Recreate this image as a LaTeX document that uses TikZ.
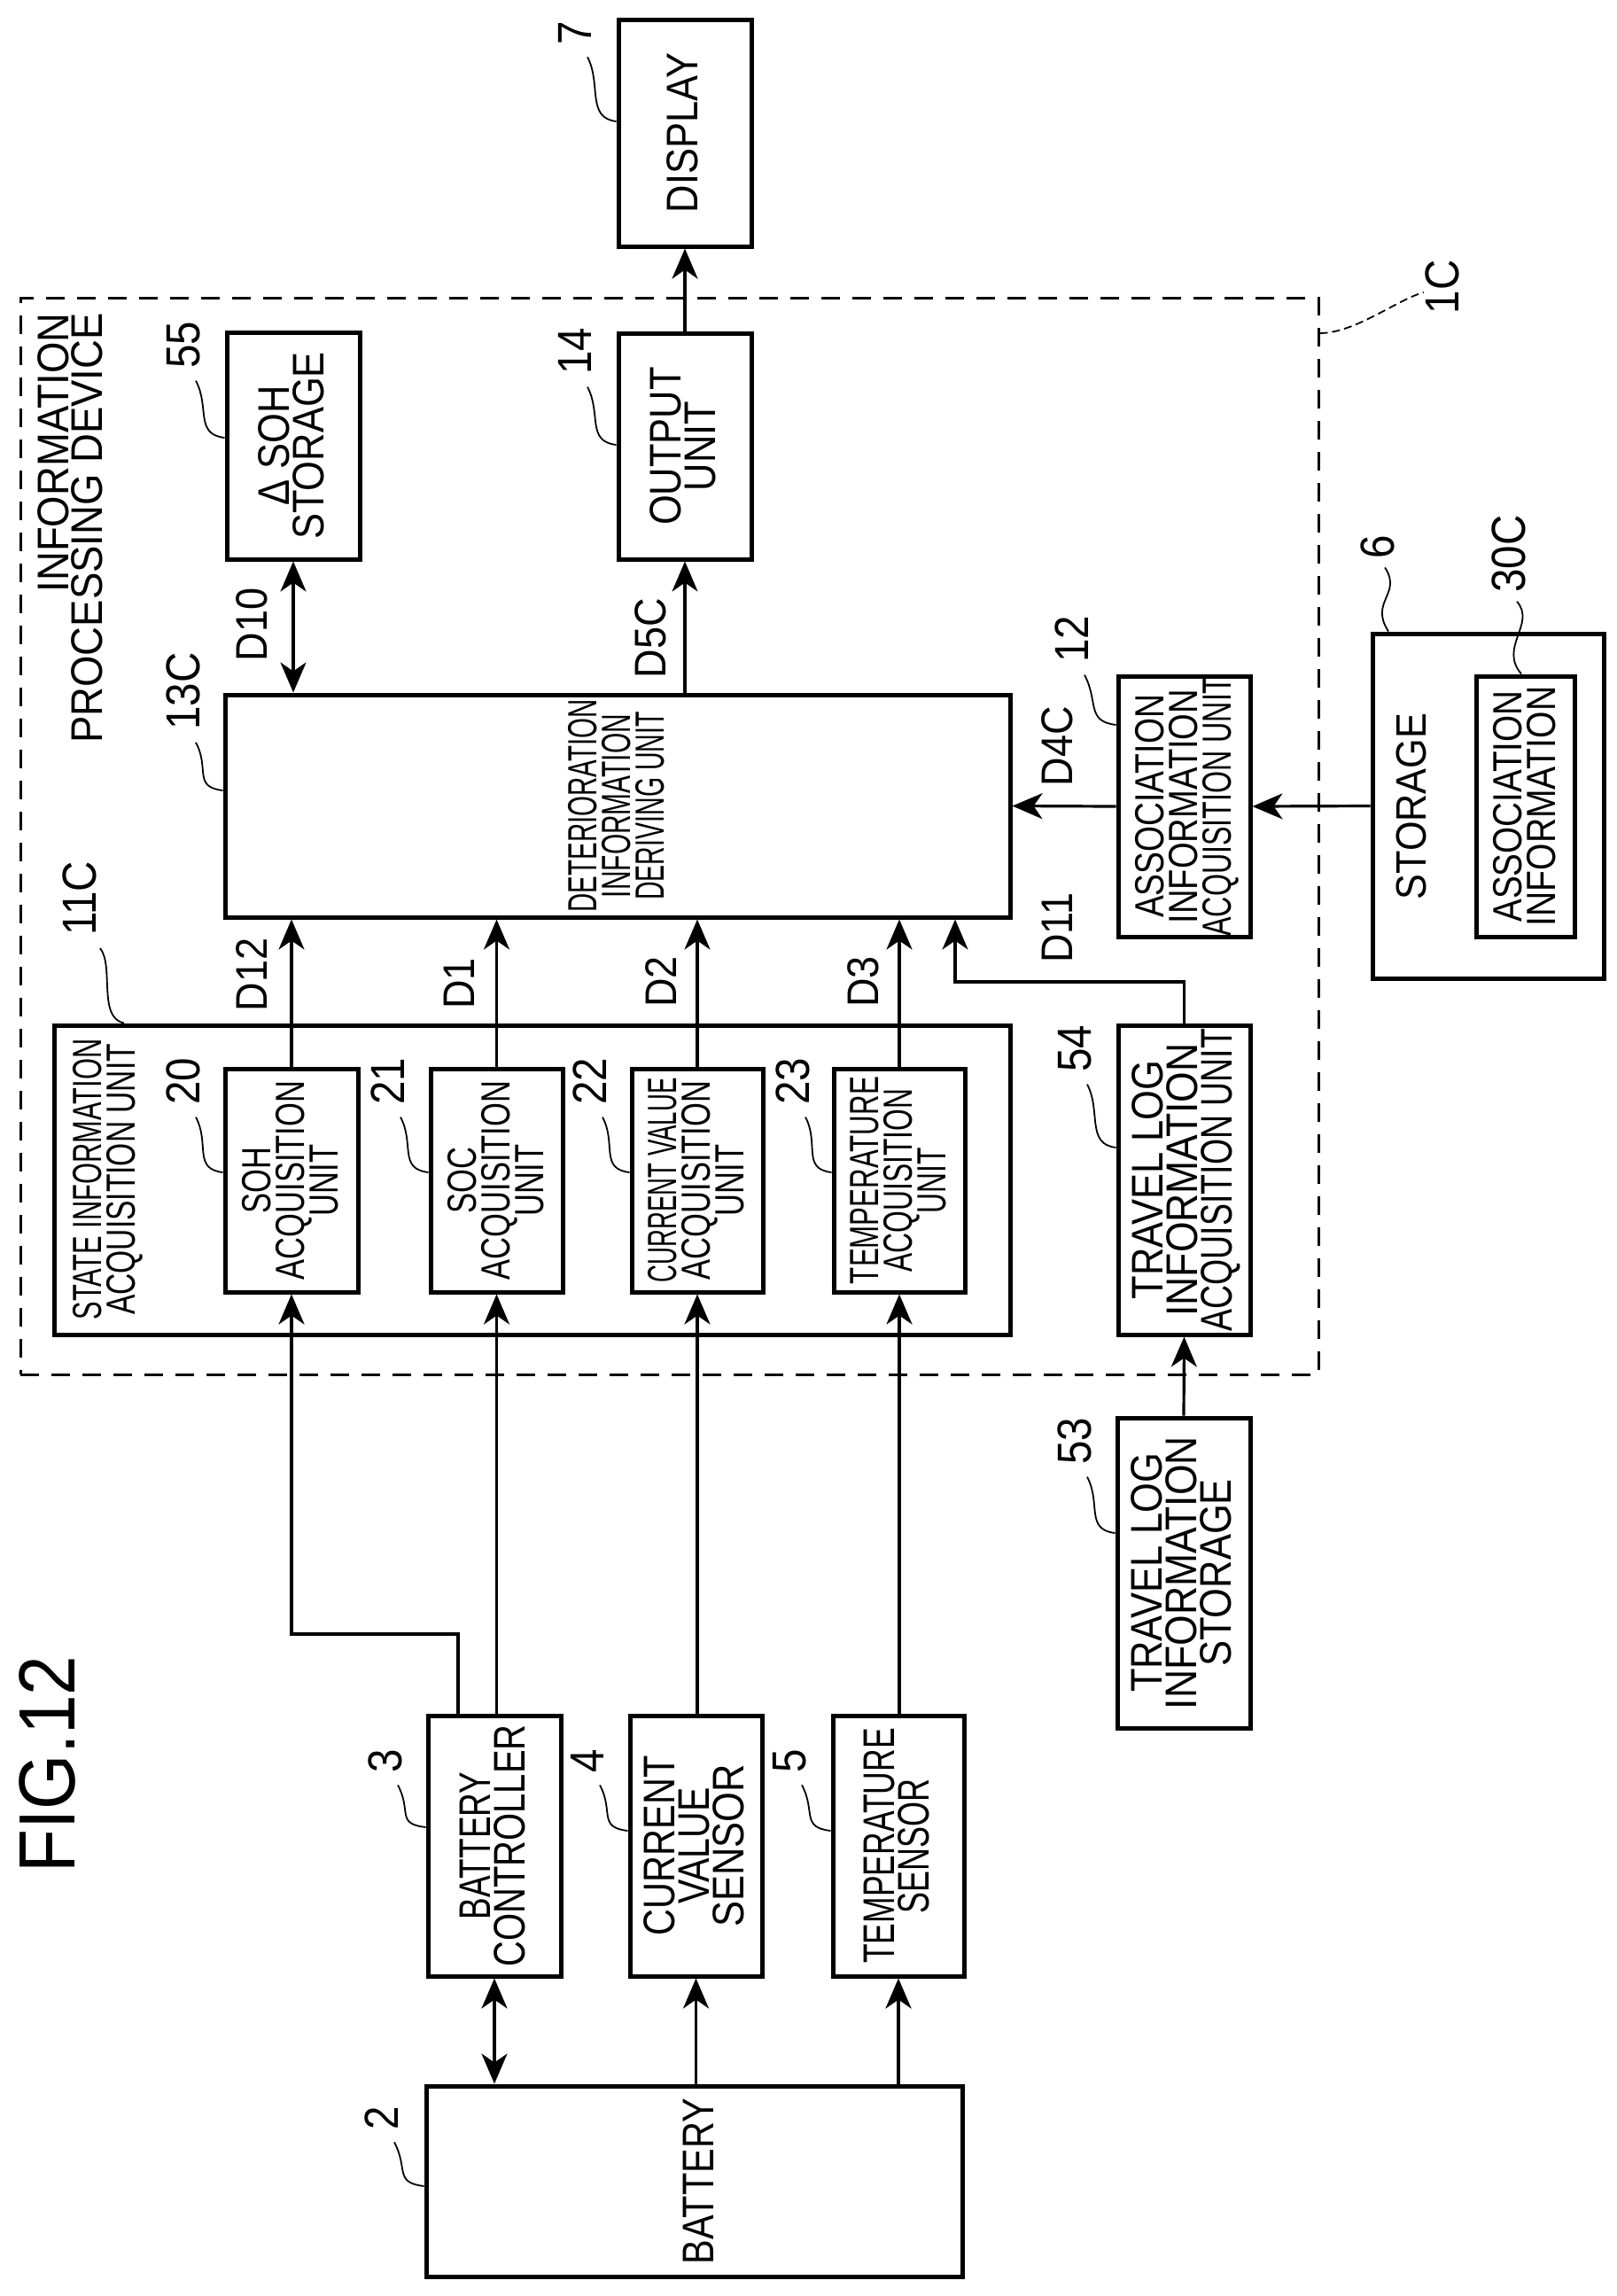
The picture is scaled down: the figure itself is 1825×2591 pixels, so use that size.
\documentclass[tikz,border=0pt]{standalone}
\usepackage{fontspec}
\usepackage{graphicx}
\setmainfont{Liberation Sans}
\usetikzlibrary{arrows.meta}
\usetikzlibrary{calc}
\newcommand{\vtext}[1]{\rotatebox{90}{\begin{tabular}{@{}c@{}}#1\end{tabular}}}
\newcommand{\vtextr}[1]{\rotatebox{90}{\begin{tabular}{@{}r@{}}#1\end{tabular}}}
\newcommand{\sq}[2]{{\addfontfeatures{FakeStretch=#1}\smash{\raisebox{-7pt}{#2}}}}
\newcommand{\leader}[2]{\draw[lead line] ($(#1.south)+(10,14)$) .. controls +(16,30) and +(-34,-4) .. (#2);}

\begin{document}
\begin{tikzpicture}[x=1pt,y=-1pt,>={Stealth[length=34pt,width=29pt,inset=10pt]},
    box node/.style={draw,line width=5pt,inner sep=0pt,font=\fontsize{50}{39}\selectfont},
    small box/.style={box node,font=\fontsize{46}{38}\selectfont},
    tag node/.style={inner sep=0pt,font=\fontsize{50}{38}\selectfont},
    num node/.style={inner sep=0pt,font=\fontsize{54}{38}\selectfont},
    flow/.style={->,line width=3.2pt},
    lead line/.style={line width=1.8pt}]
  \useasboundingbox (0,0) rectangle (1825,2591);

  % outer device frame
  \node[draw,dashed,line width=3pt,dash pattern=on 21pt off 14pt,inner sep=0pt,minimum width=1465pt,minimum height=1215pt] (ipd) at (755.5,943.5) {};
  \node[box node,minimum width=1079pt,minimum height=349pt] (sia) at (600.5,1331.5) {};

  \node[box node,minimum width=150pt,minimum height=256pt] (dpy) at (773,150) {\vtext{\sq{.87}{DISPLAY}}};
  \node[box node,minimum width=150pt,minimum height=255pt] (out) at (773,503.5) {\vtext{\sq{.87}{OUTPUT}\\\sq{.87}{UNIT}}};
  \node[box node,minimum width=150pt,minimum height=256pt] (dsoh) at (331,503) {\vtext{\sq{.87}{Δ SOH}\\\sq{.87}{STORAGE}}};
  \node[small box,minimum width=886pt,minimum height=251pt] (drv) at (697,909.5) {\vtext{\sq{.64}{DETERIORATION}\\\sq{.65}{INFORMATION}\\\sq{.62}{DERIVING UNIT}}\hspace{14pt}};
  \node[small box,minimum width=149pt,minimum height=294pt] (asc) at (1336.5,910) {\vtext{\sq{.81}{ASSOCIATION}\\\sq{.83}{INFORMATION}\\\sq{.7}{ACQUISITION UNIT}}\hspace{6pt}};
  \node[box node,minimum width=261pt,minimum height=389pt] (stor) at (1679.5,909.5) {};
  \node[tag node,font=\fontsize{48}{38}\selectfont] (stxt) at (1595,910) {\vtext{\sq{.9}{STORAGE}}};
  \node[small box,minimum width=111pt,minimum height=294pt] (ainf) at (1721.5,910) {\vtext{\sq{.84}{ASSOCIATION}\\\sq{.85}{INFORMATION}}\hspace{10pt}};

  \node[small box,minimum width=150pt,minimum height=252pt] (soh) at (329,1332) {\vtext{\sq{.75}{SOH}\\\sq{.75}{ACQUISITION}\\\sq{.75}{UNIT}}};
  \node[small box,minimum width=149pt,minimum height=252pt] (soc) at (560.5,1332) {\vtext{\sq{.75}{SOC}\\\sq{.75}{ACQUISITION}\\\sq{.75}{UNIT}}};
  \node[small box,minimum width=148pt,minimum height=252pt] (cur) at (787,1332) {\vtext{\sq{.6}{CURRENT VALUE}\\\sq{.75}{ACQUISITION}\\\sq{.75}{UNIT}}};
  \node[small box,minimum width=148pt,minimum height=252pt] (tmp) at (1015,1332) {\vtext{\sq{.68}{TEMPERATURE}\\\sq{.69}{ACQUISITION}\\\sq{.69}{UNIT}}};
  \node[tag node,font=\fontsize{46}{38}\selectfont] (stit) at (119,1331) {\vtext{\sq{.67}{STATE INFORMATION}\\\sq{.73}{ACQUISITION UNIT}}};
  \node[box node,minimum width=149pt,minimum height=349pt] (tla) at (1336.5,1331.5) {\vtext{\sq{.87}{TRAVEL LOG}\\\sq{.89}{INFORMATION}\\\sq{.75}{ACQUISITION UNIT}}};
  \node[box node,minimum width=150pt,minimum height=350pt] (tls) at (1336,1775) {\vtext{\sq{.87}{TRAVEL LOG}\\\sq{.89}{INFORMATION}\\\sq{.87}{STORAGE}}};

  \node[box node,minimum width=150pt,minimum height=294pt] (bc) at (558,2083) {\vtext{\sq{.74}{BATTERY}\\\sq{.8}{CONTROLLER}}};
  \node[box node,minimum width=149pt,minimum height=294pt] (cvs) at (785.5,2083) {\vtext{\sq{.83}{CURRENT}\\\sq{.82}{VALUE}\\\sq{.87}{SENSOR}}};
  \node[box node,minimum width=148pt,minimum height=294pt] (tsn) at (1014,2083) {\vtext{\sq{.71}{TEMPERATURE}\\\sq{.72}{SENSOR}}};
  \node[box node,minimum width=605pt,minimum height=215pt] (bat) at (783.5,2461.5) {\hspace*{14pt}\vtext{\sq{.83}{BATTERY}}};

  \node[tag node] (ttl) at (82,596) {\vtextr{\sq{.91}{INFORMATION}\\\sq{.91}{PROCESSING DEVICE}}};
  \node[tag node,font=\fontsize{90}{90}\selectfont] (fig) at (54,1991) {\rotatebox{90}{\addfontfeatures{FakeStretch=.89}FIG.12}};

  % data labels
  \node[tag node] (d10) at (287,705) {\vtext{\sq{.9}{D10}}};
  \node[tag node] (d5c) at (737,720) {\vtext{\sq{.9}{D5C}}};
  \node[tag node] (d4c) at (1196,842) {\vtext{\sq{.9}{D4C}}};
  \node[tag node] (d11) at (1196,1047) {\vtext{\sq{.9}{D11}}};
  \node[tag node] (d12) at (287,1100) {\vtext{\sq{.9}{D12}}};
  \node[tag node] (d1) at (521,1110) {\vtext{\sq{.9}{D1}}};
  \node[tag node] (d2) at (749,1108) {\vtext{\sq{.9}{D2}}};
  \node[tag node] (d3) at (977,1108) {\vtext{\sq{.9}{D3}}};

  % reference numbers
  \node[num node] (n7) at (653,37) {\vtext{\sq{.88}{7}}};
  \node[num node] (n1c) at (1632,324) {\vtext{\sq{.88}{1C}}};
  \node[num node] (n55) at (211,389) {\vtext{\sq{.88}{55}}};
  \node[num node] (n14) at (653,396) {\vtext{\sq{.88}{14}}};
  \node[num node] (n13c) at (211,780) {\vtext{\sq{.88}{13C}}};
  \node[num node] (n12) at (1214,721) {\vtext{\sq{.88}{12}}};
  \node[num node] (n6) at (1559,617) {\vtext{\sq{.88}{6}}};
  \node[num node] (n30c) at (1707,625) {\vtext{\sq{.88}{30C}}};
  \node[num node] (n11c) at (94,1014) {\vtext{\sq{.88}{11C}}};
  \node[num node] (n20) at (211,1220) {\vtext{\sq{.88}{20}}};
  \node[num node] (n21) at (442,1220) {\vtext{\sq{.88}{21}}};
  \node[num node] (n22) at (670,1220) {\vtext{\sq{.88}{22}}};
  \node[num node] (n23) at (899,1220) {\vtext{\sq{.88}{23}}};
  \node[num node] (n54) at (1217,1183) {\vtext{\sq{.88}{54}}};
  \node[num node] (n53) at (1217,1626) {\vtext{\sq{.88}{53}}};
  \node[num node] (n3) at (439,1987) {\vtext{\sq{.88}{3}}};
  \node[num node] (n4) at (667,1987) {\vtext{\sq{.88}{4}}};
  \node[num node] (n5) at (895,1987) {\vtext{\sq{.88}{5}}};
  \node[num node] (n2) at (435,2390) {\vtext{\sq{.88}{2}}};

  \leader{n7}{dpy.west |- 0,137}
  \leader{n55}{dsoh.west |- 0,494}
  \leader{n14}{out.west |- 0,502}
  \leader{n13c}{drv.west |- 0,892}
  \leader{n12}{asc.west |- 0,818}
  \leader{n20}{soh.west |- 0,1323}
  \leader{n21}{soc.west |- 0,1323}
  \leader{n22}{cur.west |- 0,1323}
  \leader{n23}{tmp.west |- 0,1323}
  \leader{n54}{tla.west |- 0,1295}
  \leader{n53}{tls.west |- 0,1730}
  \leader{n3}{bc.west |- 0,2062}
  \leader{n4}{cvs.west |- 0,2066}
  \leader{n5}{tsn.west |- 0,2066}
  \leader{n2}{bat.west |- 0,2467}
  \draw[lead line] ($(n6.south)+(4,10)$) .. controls +(20,30) and +(-22,-34) .. (1567,715 |- stor.north);
  \draw[lead line] ($(n30c.south)+(5,10)$) .. controls +(22,25) and +(-26,-30) .. (1717,763 |- ainf.north);
  \draw[lead line] ($(n11c.south)+(19,14)$) .. controls +(16,20) and +(-30,-6) .. (140,1157 |- sia.north);
  \draw[lead line,dashed,dash pattern=on 9pt off 5pt] (ipd.east |- 0,376) .. controls +(40,0) and +(-30,8) .. ($(n1c.west)+(-6,6)$);

  % connectors
  \draw[flow,line width=4pt] (out.north) -- (dpy.south);
  \draw[flow] (drv.north -| out.south) -- (out.south);
  \draw[flow,<->] (drv.north -| dsoh.south) -- (dsoh.south);
  \draw[flow] (asc.west) -- (drv.east);
  \draw[flow] (stor.west) -- (asc.east);
  \draw[flow] (soh.north) -- (soh.north |- drv.south);
  \draw[flow] (soc.north) -- (soc.north |- drv.south);
  \draw[flow] (cur.north) -- (cur.north |- drv.south);
  \draw[flow] (tmp.north) -- (tmp.north |- drv.south);
  \coordinate (tin) at (1078,1108);
  \draw[flow] (tla.north) |- (tin) -- (tin |- drv.south);
  \draw[flow] (tls.north) -- (tla.south);
  \coordinate (tap) at (517,1844);
  \draw[flow] (tap |- bc.north) -- (tap) -| (soh.south);
  \draw[flow] (soc.south |- bc.north) -- (soc.south);
  \draw[flow] (cur.south |- cvs.north) -- (cur.south);
  \draw[flow] (tmp.south |- tsn.north) -- (tmp.south);
  \draw[flow,<->] (bc.south) -- (bc.south |- bat.north);
  \draw[flow] (cvs.south |- bat.north) -- (cvs.south);
  \draw[flow,line width=4pt] (tsn.south |- bat.north) -- (tsn.south);
\end{tikzpicture}
\end{document}
